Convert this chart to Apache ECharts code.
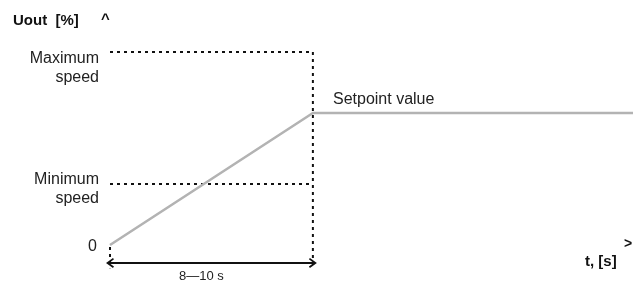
<!DOCTYPE html>
<html>
<head>
<meta charset="utf-8" />
<title>Uout ramp</title>
<script src="https://cdn.jsdelivr.net/npm/echarts@6/dist/echarts.min.js"></script>
<style>
  html, body { margin: 0; padding: 0; background: #fff; }
  #chart { width: 633px; height: 284px; }
</style>
</head>
<body>
<div id="chart"></div>
<script>
// ramp time (s, middle of 8-10 s) and axis extents
const rampEnd = 9;
const xMax = 23.2;
// output levels in %
const levelMax = 100;
const levelMin = 31.6;
const levelSet = 68.4;
const arrowLevel = -9.3;
const dropLevel = -12;

// ramp then hold at setpoint
const rampData = [[0, 0], [rampEnd, levelSet], [xMax, levelSet]];
const maxLine = [[0, levelMax], [rampEnd, levelMax]];
const minLine = [[0, levelMin], [rampEnd, levelMin]];
const rightDrop = [[rampEnd, levelMax], [rampEnd, dropLevel]];
const leftDrop = [[0, -1], [0, dropLevel]];

const font = 'Liberation Sans, Arial, sans-serif';
const chevron = 'path://M5,0 L10,8 L8.6,9.2 L5,3.6 L1.4,9.2 L0,8 Z';

const chart = echarts.init(document.getElementById('chart'));

function dotted(name, data) {
  return {
    name: name,
    type: 'line',
    data: data,
    symbol: 'none',
    silent: true,
    lineStyle: { color: '#111', width: 2, type: [3, 4] }
  };
}

const option = {
  animation: false,
  grid: { left: 110, right: 0, top: 52, bottom: 0.4 },
  xAxis: { type: 'value', min: 0, max: xMax, show: false },
  yAxis: { type: 'value', min: -20, max: 100, show: false },
  series: [
    dotted('max', maxLine),
    dotted('min', minLine),
    dotted('rightDrop', rightDrop),
    dotted('leftDrop', leftDrop),
    {
      name: 'Uout',
      type: 'line',
      data: rampData,
      symbol: 'none',
      lineStyle: { color: '#b3b3b3', width: 2.6 },
      markLine: {
        silent: true,
        symbol: [chevron, chevron],
        symbolSize: [10, 8],
        label: { show: false },
        lineStyle: { color: '#111', width: 2, type: 'solid' },
        data: [[{ coord: [0, arrowLevel] }, { coord: [rampEnd, arrowLevel] }]]
      }
    }
  ],
  graphic: [
    { type: 'text', x: 13, y: 13, style: { text: 'Uout  [%]', font: 'bold 15px ' + font, fill: '#111' } },
    { type: 'text', x: 101, y: 12, style: { text: '^', font: 'bold 15px ' + font, fill: '#111' } },
    { type: 'text', x: 99, y: 49, style: { text: 'Maximum\nspeed', font: '16px ' + font, fill: '#222', align: 'right', lineHeight: 19 } },
    { type: 'text', x: 99, y: 170, style: { text: 'Minimum\nspeed', font: '16px ' + font, fill: '#222', align: 'right', lineHeight: 19 } },
    { type: 'text', x: 88, y: 239, style: { text: '0', font: '16px ' + font, fill: '#222' } },
    { type: 'text', x: 333, y: 92, style: { text: 'Setpoint value', font: '16px ' + font, fill: '#222' } },
    { type: 'text', x: 179, y: 270, style: { text: '8\u201410 s', font: '13px ' + font, fill: '#222' } },
    { type: 'text', x: 585, y: 254, style: { text: 't, [s]', font: 'bold 15px ' + font, fill: '#111' } },
    { type: 'text', x: 624, y: 237, style: { text: '>', font: 'bold 14px ' + font, fill: '#111' } }
  ]
};

chart.setOption(option);
window.onresize = function () { chart.resize(); };
</script>
</body>
</html>
